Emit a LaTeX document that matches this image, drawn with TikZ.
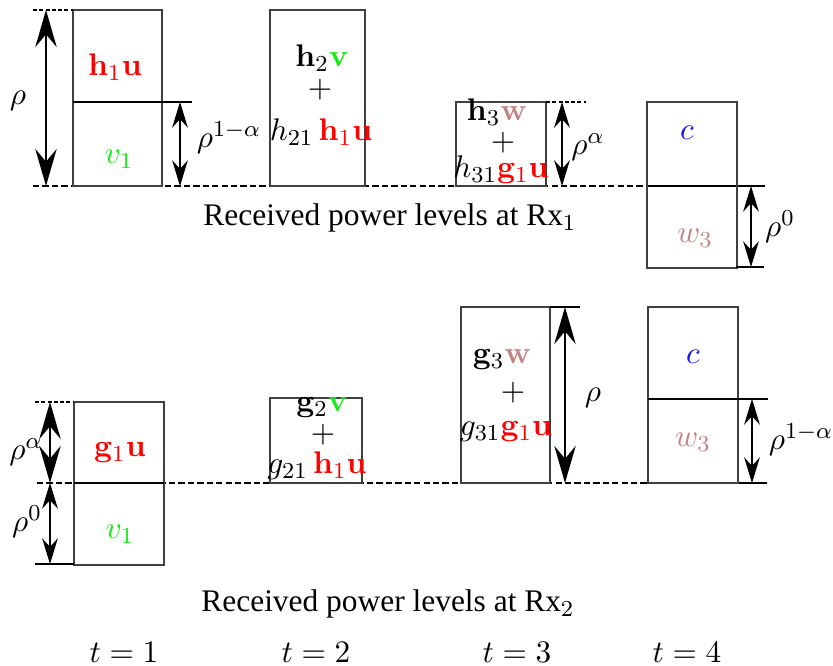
\documentclass[tikz,border=0pt]{standalone}
\usepackage[no-math]{fontspec}
\setmainfont{Liberation Serif}
\usetikzlibrary{arrows.meta}
\definecolor{vcol}{RGB}{20,235,20}
\definecolor{wcol}{RGB}{195,130,130}
\definecolor{ccol}{RGB}{20,20,240}
\begin{document}
\begin{tikzpicture}[x=0.35pt, y=-0.35pt, line width=0.4pt, font=\fontsize{11}{13}\selectfont,
  every node/.style={inner sep=1pt},
  slot/.style={draw=black!75, line width=0.4pt},
  level/.style={line width=0.8pt},
  base/.style={line width=0.75pt, dash pattern=on 2.2pt off 1.1pt},
  thindash/.style={line width=0.4pt, dash pattern=on 1.4pt off 0.8pt},
  bigdim/.style={{Stealth[length=13pt, width=7.5pt, inset=4.5pt]}-{Stealth[length=13pt, width=7.5pt, inset=4.5pt]}, line width=0.8pt},
  smalldim/.style={{Stealth[length=9pt, width=5.5pt, inset=3pt]}-{Stealth[length=9pt, width=5.5pt, inset=3pt]}, line width=0.6pt}]
  \useasboundingbox (0,0) rectangle (833,666);
  % Rx1
  \draw[base] (33,186) -- (648,186);
  \draw[level] (648,186) -- (765,186);
  \draw[slot] (73,10) rectangle (162,186);
  \draw[level] (73,102) -- (192,102);
  \draw[thindash] (33,10) -- (73,10);
  \coordinate (ra) at (46,10);
  \coordinate (rb) at (46,186);
  \draw[bigdim] (ra) -- (rb);
  \coordinate (rc) at (180,102);
  \coordinate (rd) at (180,186);
  \draw[smalldim] (rc) -- (rd);
  \node (rhoa) at (18,101) {$\rho$};
  \node (rhob) at (229,138) {$\rho^{1-\alpha}$};
  \node (hu) at (115,67) {$\color{red}\mathbf{h}_1\mathbf{u}$};
  \node (va) at (119,159) {$\color{vcol}v_1$};
  \draw[slot] (270,10) rectangle (365,186);
  \node (hv) at (322,58) {$\mathbf{h}_2\textcolor{vcol}{\mathbf{v}}$};
  \node (pa) at (320,90) {$+$};
  \node (hhu) at (321,132) {$h_{21}\,\textcolor{red}{\mathbf{h}_1\mathbf{u}}$};
  \draw[slot] (456,102) rectangle (546,186);
  \draw[thindash] (546,102) -- (586,102);
  \coordinate (re) at (562,102);
  \coordinate (rf) at (562,186);
  \draw[smalldim] (re) -- (rf);
  \node (rhoc) at (588,147) {$\rho^{\alpha}$};
  \node[inner sep=0pt] (hw) at (497,112) {$\mathbf{h}_3\textcolor{wcol}{\mathbf{w}}$};
  \node[inner sep=0pt] (pb) at (503,143) {$+$};
  \node (hgu) at (501,170) {$h_{31}\textcolor{red}{\mathbf{g}_1\mathbf{u}}$};
  \draw[slot] (647,102) rectangle (737,268);
  \draw[level] (736,267) -- (764,267);
  \coordinate (rg) at (751,186);
  \coordinate (rh) at (751,267);
  \draw[smalldim] (rg) -- (rh);
  \node (rhod) at (780,227) {$\rho^{0}$};
  \node (ca) at (687,133) {$\color{ccol}c$};
  \node (wa) at (695,238) {$\color{wcol}w_3$};
  \node (rxa) at (390,218) {Received power levels at Rx$_1$};
  % Rx2
  \draw[base] (37,483) -- (648,483);
  \draw[level] (648,483) -- (767,483);
  \draw[slot] (74,402) rectangle (164,565);
  \draw[level] (74,483) -- (164,483);
  \draw[thindash] (35,402) -- (74,402);
  \draw[level] (35,564) -- (74,564);
  \coordinate (sa) at (50,402);
  \coordinate (sb) at (50,483);
  \coordinate (sc) at (50,564);
  \draw[bigdim] (sa) -- (sb);
  \draw[smalldim] (sb) -- (sc);
  \node (rhoe) at (26,452) {$\rho^{\alpha}$};
  \node (rhof) at (27,522) {$\rho^{0}$};
  \node (gu) at (120,453) {$\color{red}\mathbf{g}_1\mathbf{u}$};
  \node (vb) at (120,534) {$\color{vcol}v_1$};
  \draw[slot] (270,398) rectangle (362,483);
  \node (gv) at (322,408) {$\mathbf{g}_2\textcolor{vcol}{\mathbf{v}}$};
  \node (pc) at (323,435) {$+$};
  \node (ghu) at (317,466) {$g_{21}\,\textcolor{red}{\mathbf{h}_1\mathbf{u}}$};
  \draw[slot] (461,307) rectangle (550,483);
  \draw[level] (550,307) -- (580,307);
  \coordinate (sd) at (565,307);
  \coordinate (se) at (565,483);
  \draw[bigdim] (sd) -- (se);
  \node (rhog) at (593,398) {$\rho$};
  \node (gw) at (502,360) {$\mathbf{g}_3\textcolor{wcol}{\mathbf{w}}$};
  \node (pd) at (513,393) {$+$};
  \node (ggu) at (506,432) {$g_{31}\textcolor{red}{\mathbf{g}_1\mathbf{u}}$};
  \draw[slot] (648,307) rectangle (738,483);
  \draw[level] (648,399) -- (768,399);
  \coordinate (sf) at (752,399);
  \coordinate (sg) at (752,483);
  \draw[smalldim] (sf) -- (sg);
  \node (rhoh) at (801,440) {$\rho^{1-\alpha}$};
  \node (cb) at (693,357) {$\color{ccol}c$};
  \node (wb) at (693,442) {$\color{wcol}w_3$};
  \node (rxb) at (388,604) {Received power levels at Rx$_2$};
  % time slots
  \node (ta) at (124,652) {$t=1$};
  \node (tb) at (316,652) {$t=2$};
  \node (tc) at (517,652) {$t=3$};
  \node (td) at (687,652) {$t=4$};
\end{tikzpicture}
\end{document}
